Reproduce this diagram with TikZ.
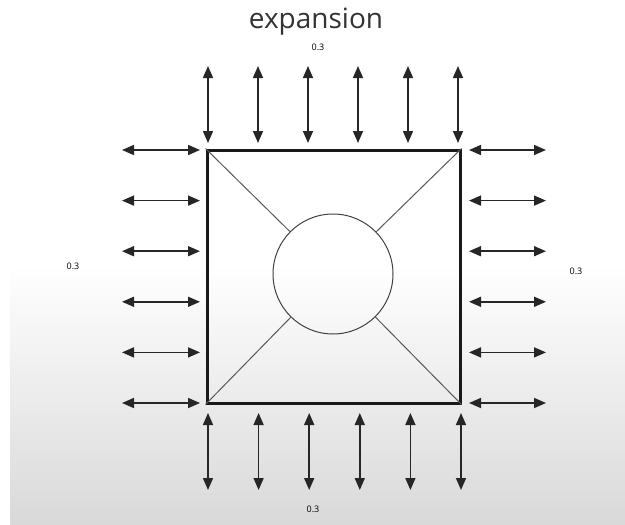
\documentclass[tikz,border=0pt]{standalone}
\usepackage{fontspec}
\setsansfont{Open Sans}
\usetikzlibrary{arrows.meta, positioning}

\begin{document}
\begin{tikzpicture}[x=1pt, y=-1pt, font=\sffamily,
    push/.style={{Triangle[length=12pt,width=10pt]}-{Triangle[length=12pt,width=10pt]}, line width=1.6pt, black!85},
    wall/.style={draw, line width=3pt, black!90, minimum size=253pt, inner sep=0pt},
    hub/.style={draw, circle, black!75, minimum size=120pt, inner sep=0pt, line width=1pt},
    spoke/.style={line width=1pt, black!65},
    val/.style={font=\sffamily\fontsize{9}{10}\selectfont}]
        \useasboundingbox (0,0) rectangle (625,525);
        \fill[top color=white, bottom color=black!15] (10,265) rectangle (625,525);

        \node[black!80] (title) at (316,22) {\fontsize{28}{30}\selectfont expansion};

        \node[wall] (box) at (333.5,276.5) {};
        \node[hub] (core) at (333,274) {};

        \draw[spoke] (box.north west) -- (core);
        \draw[spoke] (box.north east) -- (core);
        \draw[spoke] (box.south west) -- (core);
        \draw[spoke] (box.south east) -- (core);

        \foreach \i in {0,...,5} {
            \coordinate (t\i a) at ({208+50*\i},66);
            \coordinate (t\i b) at ({208+50*\i},143);
            \coordinate (b\i a) at ({208+50.6*\i},413);
            \coordinate (b\i b) at ({208+50.6*\i},490);
            \coordinate (l\i a) at (122,{150+50.6*\i});
            \coordinate (l\i b) at (200,{150+50.6*\i});
            \coordinate (r\i a) at (469,{150+50.6*\i});
            \coordinate (r\i b) at (546,{150+50.6*\i});
            \draw[push] (t\i a) -- (t\i b);
            \draw[push] (b\i a) -- (b\i b);
            \draw[push] (l\i a) -- (l\i b);
            \draw[push] (r\i a) -- (r\i b);
        }

        \node[val] (vtop) at (318,47) {0.3};
        \node[val] (vleft) at (73,266) {0.3};
        \node[val] (vright) at (576,271) {0.3};
        \node[val] (vbottom) at (313,509) {0.3};

    \end{tikzpicture}
\end{document}
